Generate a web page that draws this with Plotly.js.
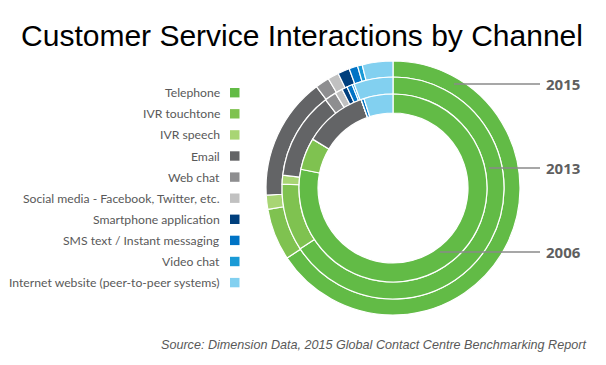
<!DOCTYPE html>
<html>
<head>
<meta charset="utf-8">
<script src="https://cdn.plot.ly/plotly-3.0.1.min.js"></script>
<style>html,body{margin:0;padding:0;background:#fff;}#chart{width:606px;height:365px;}</style>
</head>
<body>
<div id="chart"></div>
<script>
// ---- data ----
const channels = ["Telephone", "IVR touchtone", "IVR speech", "Email", "Web chat",
  "Social media - Facebook, Twitter, etc.", "Smartphone application",
  "SMS text / Instant messaging", "Video chat", "Internet website (peer-to-peer systems)"];
const colors = ["#62bb46", "#7fc250", "#a8d574", "#636466", "#8e8e90",
  "#c1c1c1", "#003f7d", "#0073c5", "#1a9ad6", "#82d0f0"];
const years = ["2015", "2013", "2006"];
const share2015 = [65.7, 6.6, 1.8, 15.6, 1.8, 1.4, 1.5, 1.1, 0.6, 3.9];
const share2013 = [65.9, 9.8, 1.3, 12.8, 1.7, 1.1, 0.8, 0.8, 0.3, 5.7];
const share2006 = [78.2, 5.5, 0, 10.8, 0, 0, 0, 0.5, 0, 5.0];

// ---- layout geometry ----
const W = 606, H = 365;
const cx = 393, cy = 188;
const radii = [[111, 127], [94, 111], [75, 94]]; // [inner, outer] per ring (2015, 2013, 2006)
const seriesList = [share2015, share2013, share2006];

function domainFor(R) {
  return {
    x: [(cx - R) / W, (cx + R) / W],
    y: [(H - cy - R) / H, (H - cy + R) / H]
  };
}

const traces = seriesList.map((vals, i) => ({
  type: "pie",
  name: years[i],
  labels: channels,
  values: vals,
  sort: false,
  direction: "clockwise",
  rotation: 0,
  hole: radii[i][0] / radii[i][1],
  domain: domainFor(radii[i][1]),
  marker: { colors: colors, line: { color: "#ffffff", width: 1.2 } },
  textinfo: "none",
  hoverinfo: "label+value",
  showlegend: false
}));

const annotations = [];
const shapes = [];

// legend (labels right-aligned, swatch on the right)
const legTop = 92.7, legStep = 21.1;
channels.forEach((c, i) => {
  const y = legTop + i * legStep;
  annotations.push({
    xref: "paper", yref: "paper", x: 222 / W, y: 1 - y / H,
    xanchor: "right", yanchor: "middle", showarrow: false,
    text: c, font: { family: "Lato, 'Open Sans', sans-serif", size: 12.2, color: "#595959" }
  });
  shapes.push({
    type: "rect", xref: "paper", yref: "paper",
    x0: 230 / W, x1: 239.5 / W, y0: 1 - (y - 4.7) / H, y1: 1 - (y + 4.7) / H,
    fillcolor: colors[i], line: { width: 0 }
  });
});

// year labels with leader lines
const yearY = [84, 168, 252];
const lineStart = [454, 489, 440];
years.forEach((yr, i) => {
  shapes.push({
    type: "line", xref: "paper", yref: "paper",
    x0: lineStart[i] / W, x1: 540 / W, y0: 1 - yearY[i] / H, y1: 1 - yearY[i] / H,
    line: { color: "#8a8a8a", width: 1.3 }
  });
  annotations.push({
    xref: "paper", yref: "paper", x: 544 / W, y: 1 - yearY[i] / H,
    xanchor: "left", yanchor: "middle", showarrow: false,
    text: "<b>" + yr + "</b>", font: { family: "'Open Sans', sans-serif", size: 15, color: "#5f5f5f" }
  });
});

// source
annotations.push({
  xref: "paper", yref: "paper", x: 588 / W, y: 1 - 345 / H,
  xanchor: "right", yanchor: "middle", showarrow: false,
  text: "<i>Source: Dimension Data, 2015 Global Contact Centre Benchmarking Report</i>",
  font: { family: "'Liberation Sans', Arial, sans-serif", size: 12.6, color: "#595959" }
});

const layout = {
  width: W, height: H,
  margin: { l: 0, r: 0, t: 0, b: 0 },
  paper_bgcolor: "#ffffff",
  title: {
    text: "Customer Service Interactions by Channel",
    x: 302 / W, xanchor: "center", y: 1 - 35 / H, yanchor: "middle",
    font: { family: "'Liberation Sans', Arial, sans-serif", size: 30, color: "#000000" }
  },
  annotations: annotations,
  shapes: shapes,
  showlegend: false
};

Plotly.newPlot("chart", traces, layout, { displayModeBar: false, staticPlot: true });
</script>
</body>
</html>
